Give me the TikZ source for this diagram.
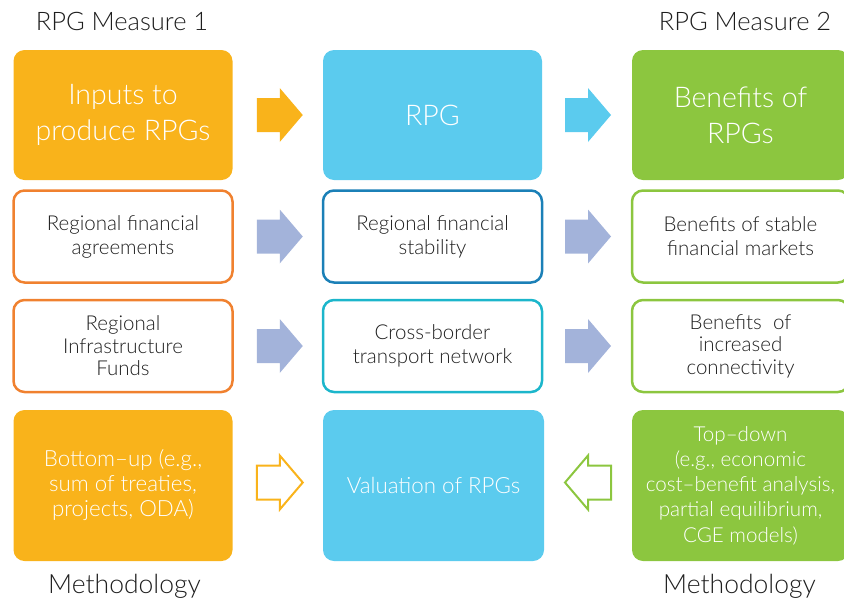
\documentclass[tikz,border=0pt]{standalone}
\usepackage{fontspec}
\setmainfont{Lato}[UprightFont=* Light]
\usetikzlibrary{calc}
\definecolor{ofill}{HTML}{F9B31B}
\definecolor{bfill}{HTML}{5BCBEE}
\definecolor{gfill}{HTML}{8CC63F}
\definecolor{oline}{HTML}{F0812F}
\definecolor{bline}{HTML}{1B80B7}
\definecolor{tline}{HTML}{1CB6CB}
\definecolor{agray}{HTML}{A3B3DA}
\definecolor{tdark}{HTML}{1E1E1E}
\tikzset{
  x=1pt, y=-1pt,
  box/.style={rounded corners=11pt, minimum width=219pt, align=center, inner sep=0pt, outer sep=0pt},
  bigbox/.style={box, minimum height=130pt, text=white, font=\fontsize{28.5}{36}\selectfont},
  midbox/.style={box, line width=2.5pt, minimum height=92pt, text=tdark, font=\fontsize{20.5}{24}\selectfont},
  lowbox/.style={box, minimum height=151pt, text=white, font=\fontsize{22.3}{25}\selectfont},
  heading/.style={text=tdark, font=\fontsize{25.5}{28}\selectfont, inner sep=0pt},
  barrow/.pic={\path[pic actions] (-23,-17) -- (0,-17) -- (0,-27) -- (23,0) -- (0,27) -- (0,17) -- (-23,17) -- cycle;}
}
\begin{document}
\begin{tikzpicture}
\useasboundingbox (0,0) rectangle (844,603);
% headings
\node[heading] (h1) at (122,21) {RPG Measure 1};
\node[heading] (h2) at (745,21) {RPG Measure 2};
\node[heading, font=\fontsize{26.5}{28}\selectfont] (m1) at (124.5,586) {Methodology};
\node[heading, font=\fontsize{26.5}{28}\selectfont] (m2) at (739.5,586) {Methodology};
% row 1
\node[bigbox, fill=ofill] (a1) at (123,115) {Inputs to\\produce RPGs};
\node[bigbox, fill=bfill] (b1) at (432.5,115) {RPG};
\node[bigbox, fill=gfill, minimum width=217pt] (c1) at (740.5,115) {Benefits of\\RPGs};
% row 2
\node[midbox, draw=oline] (a2) at (123,236.5) {Regional financial\\agreements};
\node[midbox, draw=bline] (b2) at (432.5,236.5) {Regional financial\\stability};
\node[midbox, draw=gfill, minimum width=217pt] (c2) at (740.5,236.5) {Benefits of stable\\financial markets};
% row 3
\node[midbox, draw=oline, font=\fontsize{20.5}{22.5}\selectfont] (a3) at (123,346) {Regional\\Infrastructure\\Funds};
\node[midbox, draw=tline] (b3) at (432.5,346) {Cross-border\\transport network};
\node[midbox, draw=gfill, minimum width=217pt, font=\fontsize{20.5}{22.5}\selectfont] (c3) at (740.5,346) {Benefits~ of\\increased\\connectivity};
% row 4
\node[lowbox, fill=ofill] (a4) at (123,485.5) {Bottom–up (e.g.,\\sum of treaties,\\projects, ODA)};
\node[lowbox, fill=bfill, minimum width=221pt] (b4) at (433.5,485.5) {Valuation of RPGs};
\node[lowbox, fill=gfill, minimum width=217pt, font=\fontsize{20.6}{25.3}\selectfont] (c4) at (740.5,485.5) {Top–down\\(e.g., economic\\cost–benefit analysis,\\partial equilibrium,\\CGE models)};
% arrows
\pic[fill=ofill] at ($(a1.east)!0.5!(b1.west)+(2,0)$) {barrow};
\pic[fill=bfill] at ($(b1.east)!0.5!(c1.west)+(1,0)$) {barrow};
\pic[fill=agray] at ($(a2.east)!0.5!(b2.west)+(2,0)$) {barrow};
\pic[fill=agray] at ($(b2.east)!0.5!(c2.west)+(1,0)$) {barrow};
\pic[fill=agray] at ($(a3.east)!0.5!(b3.west)+(2,0)$) {barrow};
\pic[fill=agray] at ($(b3.east)!0.5!(c3.west)+(1,0)$) {barrow};
\pic[draw=ofill, line width=2pt, fill=white] at ($(a4.east)!0.5!(b4.west)+(2,-3)$) {barrow};
\pic[draw=gfill, line width=2pt, fill=white, xscale=-1] at ($(b4.east)!0.5!(c4.west)+(0,-3)$) {barrow};
\end{tikzpicture}
\end{document}
